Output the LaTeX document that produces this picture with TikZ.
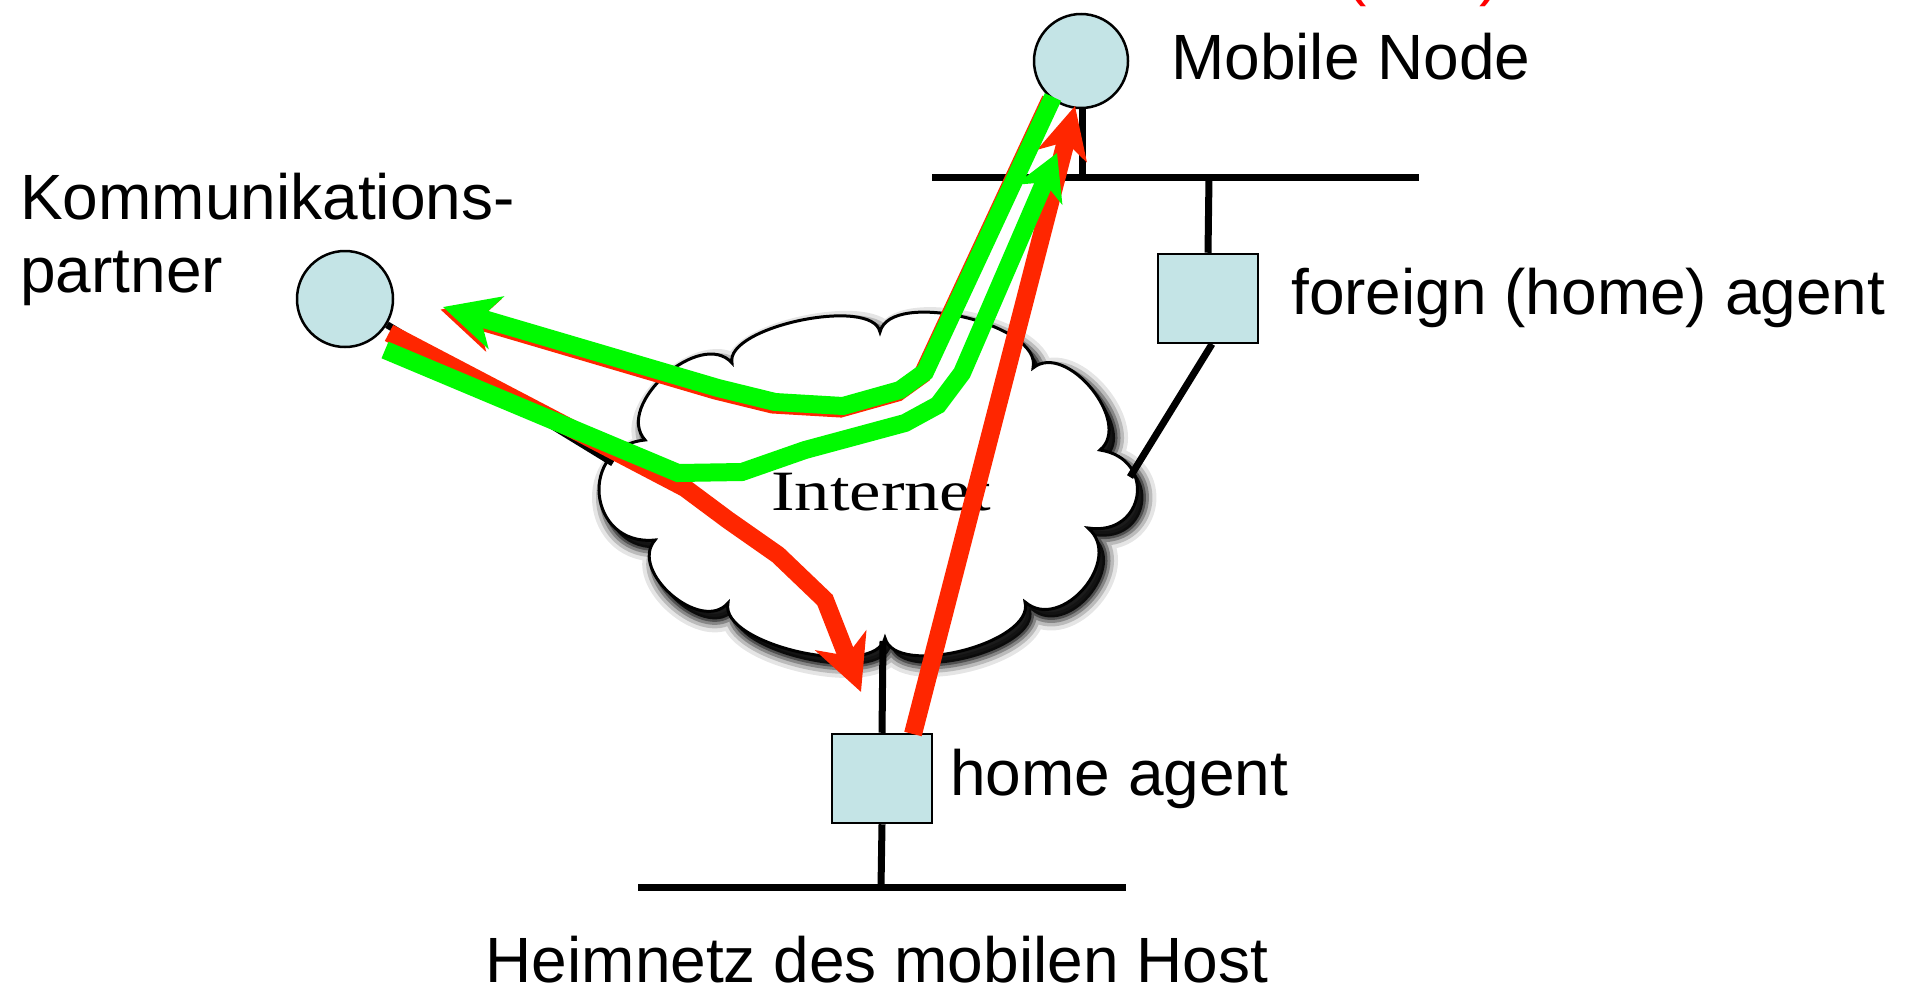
\documentclass[tikz,border=0pt]{standalone}
\usepackage{fontspec}
\usepackage{graphicx}
\setmainfont{Liberation Sans}
\newfontfamily\internetfont{Liberation Serif}
\usetikzlibrary{arrows.meta,calc}
\definecolor{nodeblue}{RGB}{196,228,230}
\definecolor{arrred}{RGB}{255,38,0}
\definecolor{arrgreen}{RGB}{0,250,0}
\newcommand\cloudlobe[3]{.. controls ($(#1)!#3pt!90:(#2)$) and ($(#2)!#3pt!-90:(#1)$) .. (#2)}
\newcommand\cloudshape{(cA) \cloudlobe{cA}{cB}{37} \cloudlobe{cB}{cC}{45} \cloudlobe{cC}{cJ}{43} \cloudlobe{cJ}{cI}{58} \cloudlobe{cI}{cH}{48} \cloudlobe{cH}{cG}{42} \cloudlobe{cG}{cF}{43} \cloudlobe{cF}{cE}{41} \cloudlobe{cE}{cD}{68} \cloudlobe{cD}{cA}{47} -- cycle}
\tikzset{
  lbl/.style={inner sep=0pt, font=\fontsize{64}{72}\selectfont},
  net/.style={line width=7pt, black},
  agentbox/.style={draw=black, line width=2.5pt, fill=nodeblue, minimum width=100pt, minimum height=89pt, inner sep=0pt},
  hostnode/.style={circle, draw=black, line width=2.5pt, fill=nodeblue, inner sep=0pt},
  redline/.style={draw=arrred, line width=18pt, line join=miter},
  greenline/.style={draw=arrgreen, line width=18pt, line join=miter},
}
\begin{document}
\begin{tikzpicture}[x=1pt, y=-1pt]
\useasboundingbox (0,0) rectangle (1905,988);
\clip (0,0) rectangle (1905,988);
\fill[white] (0,0) rectangle (1905,988);
% cloud notches
\coordinate (cA) at (732,363);
\coordinate (cB) at (880,332);
\coordinate (cC) at (1033,368);
\coordinate (cJ) at (1100,450);
\coordinate (cI) at (1088,528);
\coordinate (cH) at (1025,602);
\coordinate (cG) at (885,638);
\coordinate (cF) at (728,603);
\coordinate (cE) at (655,540);
\coordinate (cD) at (645,440);
% shadow
\fill[black, opacity=0.85, transform canvas={xshift=6pt, yshift=-8pt}] \cloudshape;
\foreach \w/\o in {26/0.10, 18/0.18, 11/0.28, 5/0.4} {
  \draw[black, draw opacity=\o, line width=\w pt, line join=round, transform canvas={xshift=6pt, yshift=-8pt}] \cloudshape;
}
\draw[black, line width=3pt, fill=white] \cloudshape;
\node[inner sep=0pt, anchor=base west] (inet) at (771,510) {\scalebox{1.24}[1]{\internetfont\fontsize{57}{60}\selectfont Internet}};

% networks
\coordinate (fnL) at (932,177);
\coordinate (fnR) at (1419,177);
\coordinate (hnL) at (638,887);
\coordinate (hnR) at (1126,887);
\draw[net] (fnL) -- (fnR);
\draw[net] (hnL) -- (hnR);

% nodes
\node[hostnode, minimum size=94pt] (mn) at (1081,61) {};
\node[hostnode, minimum size=96pt] (cn) at (345,299) {};
\node[agentbox] (fa) at (1208,298.5) {};
\node[agentbox] (ha) at (882,778.5) {};

% stubs
\coordinate (mnTap) at (1082,177);
\coordinate (faTap) at (1209,177);
\coordinate (faCloud) at (1130,477);
\coordinate (cnCloud) at (613,463);
\coordinate (haCloud) at (883,641);
\coordinate (haTap) at (881,887);
\draw[net] (1082,107) -- (mnTap);
\draw[net] (faTap) -- (fa.north);
\draw[net] (1212,344) -- (faCloud);
\draw[net] (cn) -- (cnCloud);
\draw[net] (haCloud) -- (ha.north);
\draw[net] (ha.south) -- (haTap);

% labels
\node[lbl, anchor=base west] (mnl) at (1171,79) {Mobile Node};
\node[lbl, anchor=base, text=red] (coal) at (1423,-7) {(\hspace{113pt})};
\node[lbl, anchor=base west] (cnl1) at (20,219) {Kommunikations-};
\node[lbl, anchor=base west] (cnl2) at (20,292) {partner};
\node[lbl, anchor=base west] (fal) at (1291,314) {foreign (home) agent};
\node[lbl, anchor=base west] (hal) at (950,795) {home agent};
\node[lbl, anchor=base] (hnl) at (877,982) {Heimnetz des mobilen Host};

% red arrow: correspondent -> home agent
\coordinate (r1a) at (389,333);
\coordinate (r1b) at (685,488);
\coordinate (r1c) at (728,520);
\coordinate (r1d) at (778,555);
\coordinate (r1e) at (825,600);
\coordinate (r1t) at (861,692);
\draw[redline, -{Stealth[length=55pt, width=54pt, inset=16pt]}] (r1a) -- (r1b) -- (r1c) -- (r1d) -- (r1e) -- (r1t);

% red arrow: home agent -> mobile node (tunnel)
\coordinate (r2a) at (913,734);
\coordinate (r2t) at (1075,106);
\draw[redline, -{Stealth[length=51pt, width=50pt, inset=14pt]}] (r2a) -- (r2t);

% upper path: mobile node -> correspondent
\coordinate (g1a) at (1053,97);
\coordinate (g1b) at (925,372);
\coordinate (g1c) at (900,390);
\coordinate (g1d) at (843,406);
\coordinate (g1e) at (775,402);
\coordinate (g1f) at (718,388);
\coordinate (g1t) at (443,307);
\draw[redline, transform canvas={xshift=-2.5pt, yshift=-2.5pt}, -{Stealth[length=55pt, width=54pt, inset=16pt]}] (g1a) -- (g1b) -- (g1c) -- (g1d) -- (g1e) -- (g1f) -- (g1t);

% lower green path: correspondent -> mobile node
\coordinate (g2a) at (385,350);
\coordinate (g2b) at (678,473);
\coordinate (g2c) at (742,472);
\coordinate (g2d) at (805,450);
\coordinate (g2e) at (905,423);
\coordinate (g2f) at (938,405);
\coordinate (g2g) at (962,373);
\coordinate (g2t) at (1057,153);
\draw[greenline, -{Stealth[length=45pt, width=50pt, inset=13pt]}] (g2a) -- (g2b) -- (g2c) -- (g2d) -- (g2e) -- (g2f) -- (g2g) -- (g2t);

\draw[greenline, -{Stealth[length=55pt, width=54pt, inset=16pt]}] (g1a) -- (g1b) -- (g1c) -- (g1d) -- (g1e) -- (g1f) -- (g1t);
\end{tikzpicture}
\end{document}
